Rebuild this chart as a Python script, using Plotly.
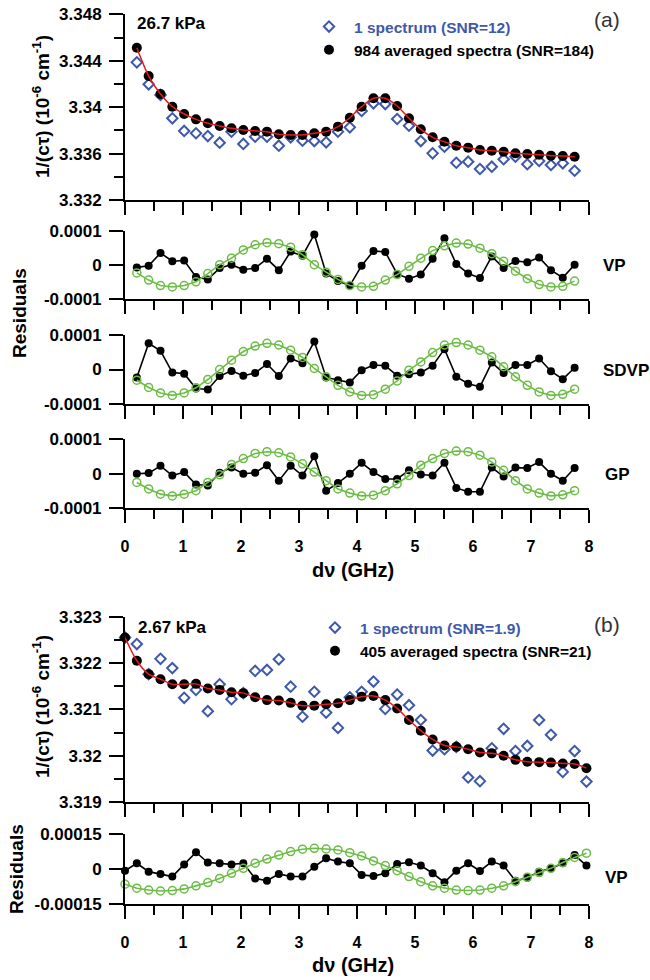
import numpy as np
import plotly.graph_objects as go

# ---------------------------------------------------------------------------
# Data
# ---------------------------------------------------------------------------
# detuning grids (GHz)
dnu_a = [0.204, 0.408, 0.612, 0.816, 1.020, 1.224, 1.428, 1.632, 1.836, 2.040,
         2.244, 2.448, 2.652, 2.856, 3.060, 3.264, 3.468, 3.672, 3.876, 4.080,
         4.284, 4.488, 4.692, 4.896, 5.100, 5.304, 5.508, 5.712, 5.916, 6.120,
         6.324, 6.528, 6.732, 6.936, 7.140, 7.344, 7.548, 7.752]
dnu_b = [0.000, 0.204, 0.408, 0.612, 0.816, 1.020, 1.224, 1.428, 1.632, 1.836,
         2.040, 2.244, 2.448, 2.652, 2.856, 3.060, 3.264, 3.468, 3.672, 3.876,
         4.080, 4.284, 4.488, 4.692, 4.896, 5.100, 5.304, 5.508, 5.712, 5.916,
         6.120, 6.324, 6.528, 6.732, 6.936, 7.140, 7.344, 7.548, 7.752, 7.956]

# (a) 26.7 kPa : 1/(c tau) in 1e-6 cm^-1
single_a = [3.34386, 3.34197, 3.34105, 3.33904, 3.33795, 3.33775, 3.33751, 3.33694,
            3.33789, 3.33683, 3.33745, 3.33745, 3.33668, 3.33740, 3.33711, 3.33708,
            3.33697, 3.33789, 3.33826, 3.33967, 3.34033, 3.34027, 3.33898, 3.33840,
            3.33708, 3.33602, 3.33659, 3.33521, 3.33530, 3.33467, 3.33487, 3.33551,
            3.33573, 3.33508, 3.33536, 3.33502, 3.33516, 3.33452]
avg_a = [3.34512, 3.34268, 3.34113, 3.34004, 3.33941, 3.33895, 3.33861, 3.33838,
         3.33818, 3.33803, 3.33795, 3.33789, 3.33766, 3.33760, 3.33760, 3.33775,
         3.33789, 3.33832, 3.33909, 3.34004, 3.34076, 3.34076, 3.34010, 3.33904,
         3.33809, 3.33740, 3.33702, 3.33668, 3.33651, 3.33631, 3.33625, 3.33616,
         3.33602, 3.33596, 3.33590, 3.33582, 3.33579, 3.33573]

# (a) fit residuals, in units of 1e-4 (averaged spectra / single spectrum)
vp_avg_a = [-0.07, -0.02, 0.35, 0.11, 0.13, -0.35, -0.42, -0.09, 0.01, -0.14,
            -0.09, 0.18, -0.15, 0.39, 0.27, 0.89, -0.25, -0.47, -0.60, -0.02,
            0.41, 0.38, -0.26, -0.40, -0.28, 0.18, 0.78, 0.03, -0.25, -0.38,
            0.25, -0.09, 0.12, 0.08, 0.22, -0.15, -0.37, 0.01]
vp_one_a = [-0.23, -0.44, -0.60, -0.64, -0.60, -0.49, -0.25, 0.01, 0.20, 0.44,
            0.59, 0.65, 0.62, 0.52, 0.30, 0.01, -0.21, -0.42, -0.60, -0.64,
            -0.62, -0.44, -0.28, -0.04, 0.20, 0.42, 0.56, 0.64, 0.61, 0.49,
            0.33, 0.11, -0.18, -0.40, -0.57, -0.64, -0.62, -0.47]
sdvp_avg_a = [-0.23, 0.76, 0.54, -0.09, -0.12, -0.55, -0.58, -0.19, -0.04, -0.18,
              -0.10, 0.16, -0.19, 0.32, 0.18, 0.81, -0.23, -0.31, -0.38, -0.02,
              0.13, 0.11, -0.18, -0.14, -0.09, 0.11, 0.59, -0.21, -0.41, -0.50,
              0.20, -0.10, 0.13, 0.13, 0.32, -0.05, -0.28, 0.05]
sdvp_one_a = [-0.31, -0.52, -0.68, -0.75, -0.68, -0.53, -0.29, 0.00, 0.27, 0.52,
              0.68, 0.76, 0.71, 0.56, 0.35, 0.03, -0.21, -0.46, -0.65, -0.75,
              -0.73, -0.57, -0.33, -0.02, 0.22, 0.49, 0.71, 0.78, 0.71, 0.56,
              0.37, 0.08, -0.21, -0.46, -0.65, -0.75, -0.72, -0.57]
gp_avg_a = [0.00, 0.02, 0.23, -0.05, 0.05, -0.31, -0.34, 0.03, 0.18, 0.00,
            0.03, 0.25, -0.20, 0.23, -0.05, 0.51, -0.49, -0.27, 0.00, 0.32,
            0.05, -0.15, -0.15, 0.10, -0.02, -0.05, 0.32, -0.41, -0.52, -0.52,
            0.18, -0.08, 0.18, 0.17, 0.34, 0.00, -0.20, 0.17]
gp_one_a = [-0.25, -0.44, -0.59, -0.64, -0.59, -0.49, -0.25, -0.03, 0.27, 0.44,
            0.59, 0.64, 0.61, 0.49, 0.29, 0.05, -0.20, -0.44, -0.56, -0.64,
            -0.62, -0.49, -0.29, -0.05, 0.25, 0.44, 0.59, 0.66, 0.64, 0.54,
            0.34, 0.10, -0.20, -0.44, -0.56, -0.64, -0.61, -0.49]

# (b) 2.67 kPa
single_b = [3.32255, 3.32241, 3.32176, 3.32209, 3.32189, 3.32125, 3.32142, 3.32096,
            3.32154, 3.32122, 3.32135, 3.32183, 3.32185, 3.32208, 3.32149, 3.32084,
            3.32138, 3.32093, 3.32060, 3.32126, 3.32138, 3.32160, 3.32101, 3.32132,
            3.32109, 3.32077, 3.32011, 3.32014, 3.32019, 3.31953, 3.31945, 3.32016,
            3.32058, 3.32010, 3.32021, 3.32077, 3.32045, 3.31965, 3.32010, 3.31944]
avg_b = [3.32255, 3.32205, 3.32176, 3.32165, 3.32154, 3.32154, 3.32155, 3.32145,
         3.32142, 3.32137, 3.32135, 3.32126, 3.32120, 3.32119, 3.32114, 3.32108,
         3.32108, 3.32111, 3.32113, 3.32120, 3.32127, 3.32129, 3.32120, 3.32102,
         3.32077, 3.32054, 3.32035, 3.32022, 3.32019, 3.32014, 3.32007, 3.32005,
         3.32000, 3.31991, 3.31987, 3.31986, 3.31985, 3.31983, 3.31982, 3.31973]
vp_avg_b = [-0.06, 0.26, -0.10, -0.20, -0.31, 0.21, 0.73, 0.29, 0.26, 0.21,
            0.26, -0.39, -0.49, -0.20, -0.31, -0.31, 0.11, 0.47, 0.33, 0.26,
            -0.24, -0.29, -0.17, 0.23, 0.30, 0.16, -0.17, -0.56, -0.06, 0.26,
            -0.07, 0.33, 0.16, -0.49, -0.36, -0.10, 0.04, 0.26, 0.61, 0.16]
vp_one_b = [-0.64, -0.81, -0.89, -0.93, -0.91, -0.84, -0.71, -0.57, -0.39, -0.17,
            0.04, 0.26, 0.44, 0.61, 0.76, 0.86, 0.90, 0.87, 0.83, 0.71,
            0.57, 0.36, 0.16, -0.06, -0.31, -0.53, -0.71, -0.81, -0.89, -0.91,
            -0.89, -0.81, -0.71, -0.53, -0.34, -0.14, 0.04, 0.29, 0.51, 0.69]
RES_UNIT = 1e-4

# tick labels
x_ticks = [0, 1, 2, 3, 4, 5, 6, 7, 8]
ya_ticks = [3.332, 3.336, 3.340, 3.344, 3.348]
ya_text = ["3.332", "3.336", "3.34", "3.344", "3.348"]
yb_ticks = [3.319, 3.320, 3.321, 3.322, 3.323]
yb_text = ["3.319", "3.32", "3.321", "3.322", "3.323"]
ra_ticks = [-1e-4, 0, 1e-4]
ra_text = ["-0.0001", "0", "0.0001"]
rb_ticks = [-1.5e-4, 0, 1.5e-4]
rb_text = ["-0.00015", "0", "0.00015"]

# ---------------------------------------------------------------------------
# Styling / geometry helpers
# ---------------------------------------------------------------------------
W, H = 650, 980
FONT = "Liberation Sans"
BLUE = "#3f59aa"
GREEN = "#6cbd45"
RED = "#e8191e"


def fx(p):
    return p / W


def fy(p):
    return 1 - p / H


X_DOM = [fx(125), fx(589)]
# subplot vertical extents in pixels (top, bottom)
rows = {
    "": (14.3, 200.0),
    "2": (230.7, 299.3),
    "3": (335.0, 404.0),
    "4": (439.3, 508.3),
    "5": (616.7, 802.0),
    "6": (834.3, 904.3),
}

xtick_font = dict(family=FONT, size=16, color="black", weight="bold")
ytick_font = dict(family=FONT, size=17, color="black", weight="bold")

fig = go.Figure()


def xy(suffix):
    return dict(xaxis="x" + suffix, yaxis="y" + suffix)


def main_traces(suffix, x, single, avg, name_single, name_avg, legend):
    fig.add_trace(go.Scatter(
        x=x, y=single, mode="markers", name=name_single, legend=legend,
        marker=dict(symbol="diamond-open", size=8, color=BLUE,
                    line=dict(width=2, color=BLUE)),
        cliponaxis=False, **xy(suffix)))
    fig.add_trace(go.Scatter(
        x=x, y=avg, mode="markers", name=name_avg, legend=legend,
        marker=dict(symbol="circle", size=10, color="black"),
        cliponaxis=False, **xy(suffix)))
    fig.add_trace(go.Scatter(
        x=x, y=avg, mode="lines", showlegend=False,
        line=dict(color=RED, width=1.5, shape="spline", smoothing=0.8),
        cliponaxis=False, **xy(suffix)))


def resid_traces(suffix, x, avg, one):
    fig.add_trace(go.Scatter(
        x=x, y=np.array(avg) * RES_UNIT, mode="lines+markers", showlegend=False,
        line=dict(color="black", width=1.6),
        marker=dict(symbol="circle", size=8, color="black"),
        cliponaxis=False, **xy(suffix)))
    fig.add_trace(go.Scatter(
        x=x, y=np.array(one) * RES_UNIT, mode="lines+markers", showlegend=False,
        line=dict(color=GREEN, width=1.6),
        marker=dict(symbol="circle-open", size=8, color=GREEN,
                    line=dict(width=1.5, color=GREEN)),
        cliponaxis=False, **xy(suffix)))


main_traces("", dnu_a, single_a, avg_a,
            f"<span style='color:{BLUE}'>1 spectrum (SNR=12)</span>",
            "984 averaged spectra (SNR=184)", "legend")
resid_traces("2", dnu_a, vp_avg_a, vp_one_a)
resid_traces("3", dnu_a, sdvp_avg_a, sdvp_one_a)
resid_traces("4", dnu_a, gp_avg_a, gp_one_a)
main_traces("5", dnu_b, single_b, avg_b,
            f"<span style='color:{BLUE}'>1 spectrum (SNR=1.9)</span>",
            "405 averaged spectra (SNR=21)", "legend2")
resid_traces("6", dnu_b, vp_avg_b, vp_one_b)

axis_common = dict(showline=True, linewidth=2, linecolor="black",
                   ticks="outside", tickwidth=2, tickcolor="black",
                   showgrid=False, zeroline=False, automargin=False)

layout_axes = {}
for s, (top, bot) in rows.items():
    labels = s in ("4", "6")
    layout_axes["xaxis" + s] = dict(
        axis_common, domain=X_DOM, anchor="y" + s, range=[0, 8],
        tickvals=x_ticks, ticklen=13, showticklabels=labels,
        ticklabelstandoff=9, tickfont=xtick_font,
        minor=dict(dtick=0.5, tick0=0, ticks="outside", ticklen=9,
                   tickwidth=2, tickcolor="black"))
    ydom = [fy(bot), fy(top)]
    if s == "":
        yax = dict(range=[3.332, 3.348], tickvals=ya_ticks, ticktext=ya_text,
                   minor=dict(dtick=0.002, tick0=3.332, ticks="outside",
                              ticklen=9, tickwidth=2, tickcolor="black"))
    elif s == "5":
        yax = dict(range=[3.319, 3.323], tickvals=yb_ticks, ticktext=yb_text,
                   minor=dict(dtick=0.0005, tick0=3.319, ticks="outside",
                              ticklen=9, tickwidth=2, tickcolor="black"))
    elif s == "6":
        yax = dict(range=[-1.5e-4, 1.5e-4], tickvals=rb_ticks, ticktext=rb_text)
    else:
        yax = dict(range=[-1e-4, 1e-4], tickvals=ra_ticks, ticktext=ra_text)
    layout_axes["yaxis" + s] = dict(axis_common, domain=ydom, anchor="x" + s,
                                    ticklen=14, ticklabelstandoff=4,
                                    tickfont=ytick_font, **yax)

bold = dict(family=FONT, color="black", weight="bold")
annotations = [
    dict(text="26.7 kPa", x=fx(135), y=fy(24), xanchor="left", yanchor="middle",
         font=dict(bold, size=17)),
    dict(text="2.67 kPa", x=fx(136), y=fy(627), xanchor="left", yanchor="middle",
         font=dict(bold, size=17)),
    dict(text="(a)", x=fx(607), y=fy(19), xanchor="center", yanchor="middle",
         font=dict(family=FONT, size=21, color="#333333")),
    dict(text="(b)", x=fx(607), y=fy(624), xanchor="center", yanchor="middle",
         font=dict(family=FONT, size=21, color="#333333")),
    dict(text="VP", x=fx(601), y=fy(266), xanchor="left", yanchor="middle",
         font=dict(bold, size=17)),
    dict(text="SDVP", x=fx(601), y=fy(370), xanchor="left", yanchor="middle",
         font=dict(bold, size=17)),
    dict(text="GP", x=fx(603), y=fy(474), xanchor="left", yanchor="middle",
         font=dict(bold, size=17)),
    dict(text="VP", x=fx(603), y=fy(877), xanchor="left", yanchor="middle",
         font=dict(bold, size=17)),
    dict(text="1/(cτ) (10<sup>-6</sup> cm<sup>-1</sup>)", x=fx(41), y=fy(107),
         textangle=-90, xanchor="center", yanchor="middle",
         font=dict(bold, size=19)),
    dict(text="1/(cτ) (10<sup>-6</sup> cm<sup>-1</sup>)", x=fx(41), y=fy(707),
         textangle=-90, xanchor="center", yanchor="middle",
         font=dict(bold, size=19)),
    dict(text="Residuals", x=fx(20), y=fy(313), textangle=-90,
         xanchor="center", yanchor="middle", font=dict(bold, size=19)),
    dict(text="Residuals", x=fx(16), y=fy(869), textangle=-90,
         xanchor="center", yanchor="middle", font=dict(bold, size=19)),
    dict(text="dν (GHz)", x=fx(353), y=fy(570), xanchor="center",
         yanchor="middle", font=dict(bold, size=20)),
    dict(text="dν (GHz)", x=fx(353), y=fy(965), xanchor="center",
         yanchor="middle", font=dict(bold, size=20)),
]
for a in annotations:
    a.update(xref="paper", yref="paper", showarrow=False)

legend_style = dict(xanchor="left", yanchor="top", bgcolor="rgba(0,0,0,0)",
                    font=dict(bold, size=15.5), tracegroupgap=0, itemwidth=40)

fig.update_layout(
    width=W, height=H,
    margin=dict(l=0, r=0, t=0, b=0, pad=0, autoexpand=False),
    paper_bgcolor="white", plot_bgcolor="white",
    font=dict(family=FONT, color="black"),
    annotations=annotations,
    legend=dict(legend_style, x=fx(304), y=fy(10)),
    legend2=dict(legend_style, x=fx(310), y=fy(611)),
    **layout_axes,
)

fig.write_html("out.html")
